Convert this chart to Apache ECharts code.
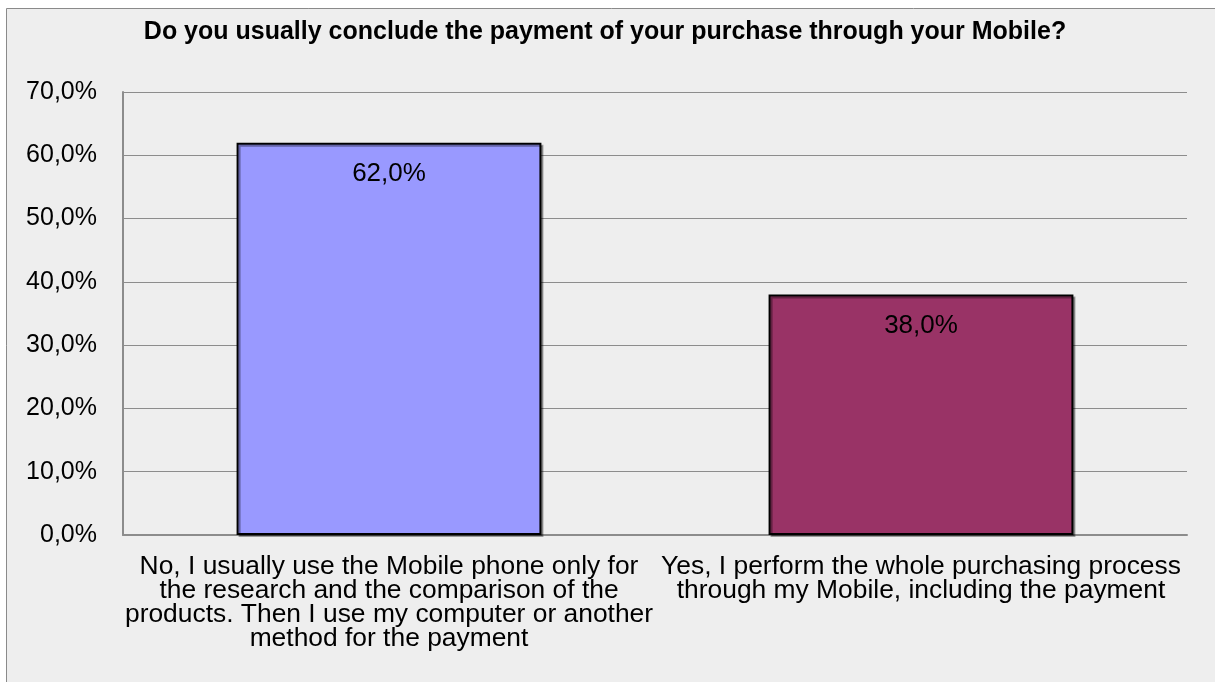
<!DOCTYPE html>
<html>
<head>
<meta charset="utf-8">
<script src="https://cdn.jsdelivr.net/npm/echarts@6/dist/echarts.min.js"></script>
<style>
  html, body { margin: 0; padding: 0; background: #ffffff; }
  #chart { width: 1215px; height: 682px; }
</style>
</head>
<body>
<div id="chart"></div>
<script>
// Survey question and answers
const titleText = 'Do you usually conclude the payment of your purchase through your Mobile?';
const categories = [
  'No, I usually use the Mobile phone only for\nthe research and the comparison of the\nproducts. Then I use my computer or another\nmethod for the payment',
  'Yes, I perform the whole purchasing process\nthrough my Mobile, including the payment'
];
const shares = [62.0, 38.0];
const barColors = ['#9999ff', '#993366'];
const yTicks = { min: 0, max: 70, interval: 10 };

const fmtPct = v => v.toFixed(1).replace('.', ',') + '%';
const font = '"Liberation Sans", Arial, sans-serif';

const chart = echarts.init(document.getElementById('chart'), null, { renderer: 'canvas' });
chart.setOption({
  backgroundColor: '#ffffff',
  animation: false,
  graphic: [{
    type: 'rect',
    z: -10,
    silent: true,
    shape: { x: 6.5, y: 8.5, width: 1240, height: 700 },
    style: { fill: '#eeeeee', stroke: '#8a8a8a', lineWidth: 1 }
  }],
  title: {
    text: titleText,
    left: 600,
    textAlign: 'center',
    top: 15,
    textStyle: { fontFamily: font, fontSize: 25, fontWeight: 'bold', color: '#000' }
  },
  grid: { left: 123, right: 28, top: 92, bottom: 147, containLabel: false },
  xAxis: {
    type: 'category',
    data: categories,
    axisLine: { show: true, lineStyle: { color: '#8c8c8c', width: 2 } },
    axisTick: { show: false },
    axisLabel: {
      interval: 0,
      margin: 20,
      color: '#000',
      fontFamily: font,
      fontSize: 26.4,
      lineHeight: 24,
      align: 'center'
    }
  },
  yAxis: {
    type: 'value',
    min: yTicks.min,
    max: yTicks.max,
    interval: yTicks.interval,
    axisLine: { show: true, lineStyle: { color: '#8c8c8c', width: 2 } },
    axisTick: { show: false },
    splitLine: { show: true, lineStyle: { color: '#8c8c8c', width: 1 } },
    axisLabel: {
      margin: 26,
      color: '#000',
      fontFamily: font,
      fontSize: 25,
      formatter: v => fmtPct(v)
    }
  },
  series: [{
    type: 'bar',
    barWidth: '57.3%',
    data: shares.map((v, i) => ({
      value: v,
      itemStyle: {
        color: barColors[i],
        borderColor: '#000',
        borderWidth: 2,
        shadowColor: 'rgba(0,0,0,0.35)',
        shadowOffsetX: 2,
        shadowOffsetY: 2
      }
    })),
    label: {
      show: true,
      position: 'insideTop',
      distance: 18,
      color: '#000',
      fontFamily: font,
      fontSize: 26,
      formatter: p => fmtPct(p.value)
    }
  }]
});
</script>
</body>
</html>
